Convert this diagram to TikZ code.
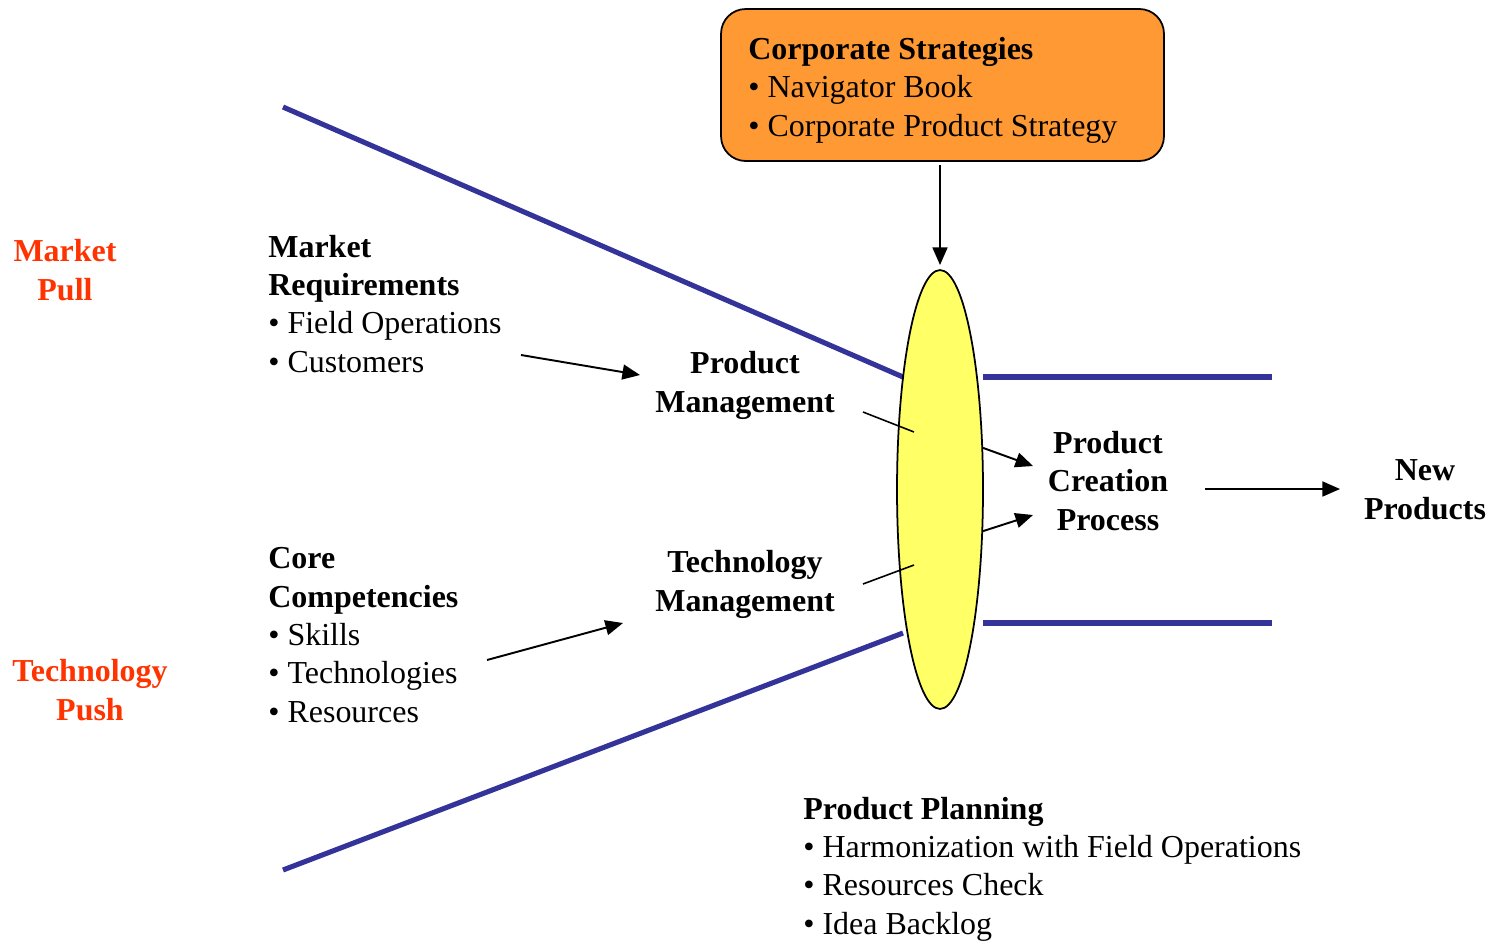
\documentclass[tikz,border=0pt]{standalone}
\usepackage{fontspec}
\setmainfont{Liberation Serif}
\usetikzlibrary{arrows.meta,shapes.geometric}
\definecolor{funnel}{HTML}{333399}
\definecolor{orangebox}{HTML}{FF9933}
\definecolor{pushred}{HTML}{FF3300}
\definecolor{lens}{HTML}{FFFF66}
\begin{document}
\begin{tikzpicture}[x=0.02cm,y=-0.02cm,
 basefont/.style={font=\fontsize{18.2}{21.8}\selectfont},
 txt/.style={basefont, inner sep=0, align=left, anchor=base west},
 ctxt/.style={font=\fontsize{18.2}{21.8}\selectfont\bfseries, inner sep=0, align=center, anchor=base},
 redtxt/.style={ctxt, text=pushred},
 funnelline/.style={draw=funnel, line width=2.9pt},
 arr/.style={-{Triangle[length=10pt,width=8.5pt]}, line width=1.1pt},
 thinline/.style={line width=0.9pt}]
\useasboundingbox (0,0) rectangle (1500,940);

% funnel lines
\coordinate (ta) at (283,107);
\coordinate (tb) at (903,377);
\coordinate (tc) at (983,377);
\coordinate (td) at (1272,377);
\coordinate (ba) at (283,870);
\coordinate (bb) at (903,633);
\coordinate (bc) at (983,623);
\coordinate (bd) at (1272,623);
\draw[funnelline] (ta) -- (tb);
\draw[funnelline] (tc) -- (td);
\draw[funnelline] (ba) -- (bb);
\draw[funnelline] (bc) -- (bd);

% lens
\node[ellipse, draw, fill=lens, line width=1pt, inner sep=0,
      minimum width=1.72cm, minimum height=8.78cm] (lens) at (940,489.5) {};

% corporate strategies box
\node[draw, fill=orangebox, rounded corners=14pt, line width=1pt,
      minimum width=8.86cm, minimum height=3.04cm] (cs) at (942.5,85) {};
\node[txt] (cstext) at (748,136)
 {\textbf{Corporate Strategies}\\• Navigator Book\\• Corporate Product Strategy};

% texts
\node[redtxt] (mp) at (65,300) {Market\\Pull};
\node[redtxt] (tp) at (90,720) {Technology\\Push};
\node[txt] (mr) at (268,372) {\textbf{Market}\\\textbf{Requirements}\\• Field Operations\\• Customers};
\node[txt] (cc) at (268,722) {\textbf{Core}\\\textbf{Competencies}\\• Skills\\• Technologies\\• Resources};
\node[ctxt] (pm) at (745,412) {Product\\Management};
\node[ctxt] (tm) at (745,611) {Technology\\Management};
\node[ctxt] (pcp) at (1108,530) {Product\\Creation\\Process};
\node[ctxt] (np) at (1425,519) {New\\Products};
\node[txt] (pp) at (803,934) {\textbf{Product Planning}\\• Harmonization with Field Operations\\• Resources Check\\• Idea Backlog};

% connectors
\coordinate (csout) at (940,165);
\coordinate (lensin) at (940,265);
\coordinate (mrend) at (521,355);
\coordinate (pmin) at (640,375);
\coordinate (ccend) at (487,660);
\coordinate (tmin) at (623,623);
\coordinate (pml1) at (863,412);
\coordinate (pml2) at (914,432);
\coordinate (tml1) at (863,584);
\coordinate (tml2) at (914,565);
\coordinate (pc1) at (1033,466);
\coordinate (pc2) at (1033,515);
\coordinate (pcpout) at (1205,489);
\coordinate (npin) at (1340,489);
\draw[arr] (csout) -- (lensin);
\draw[arr] (mrend) -- (pmin);
\draw[arr] (ccend) -- (tmin);
\draw[thinline] (pml1) -- (pml2);
\draw[thinline] (tml1) -- (tml2);
\draw[arr] (lens.44) -- (pc1);
\draw[arr] (lens.-44) -- (pc2);
\draw[arr] (pcpout) -- (npin);
\end{tikzpicture}
\end{document}
